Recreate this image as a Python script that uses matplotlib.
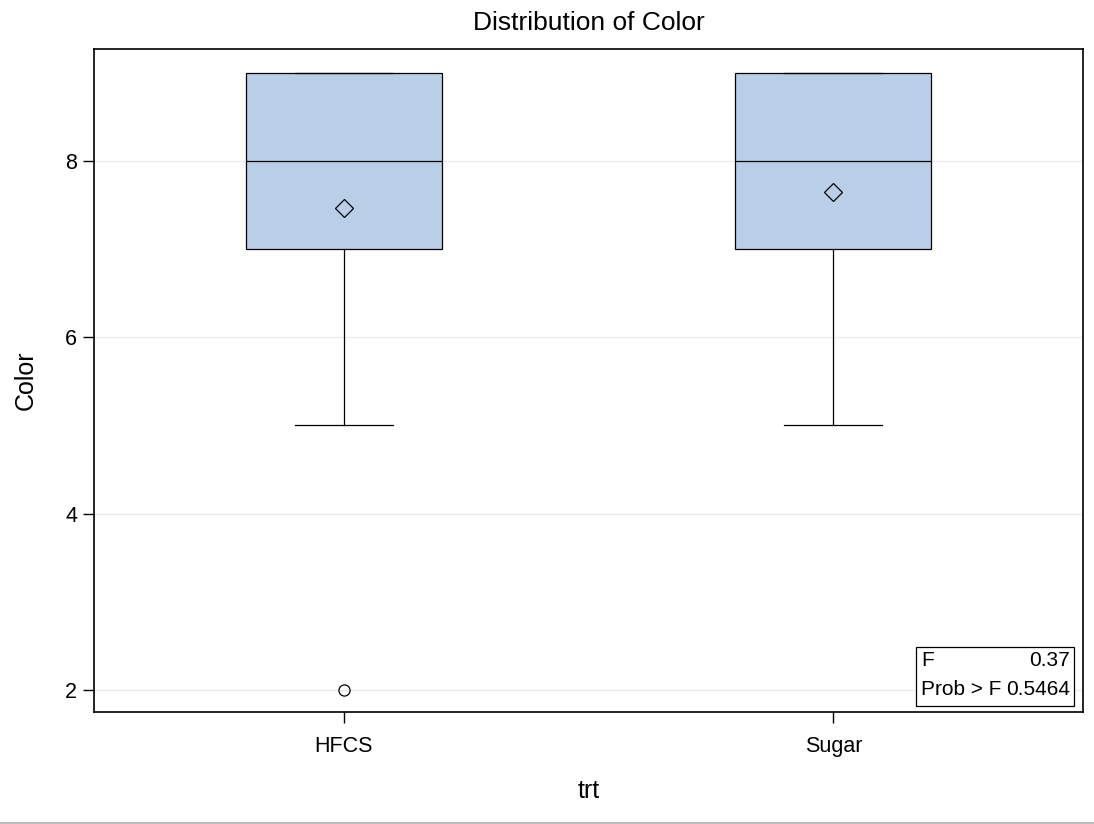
import matplotlib.pyplot as plt
from matplotlib.patches import Rectangle
from matplotlib.lines import Line2D

plt.rcParams['font.family'] = ['Liberation Sans', 'DejaVu Sans']

# Distribution of Color by treatment
groups = ["HFCS", "Sugar"]
q1 = [7, 7]
medians = [8, 8]
q3 = [9, 9]
whisk_lo = [5, 5]
whisk_hi = [9, 9]
means = [7.47, 7.65]
outliers = [[2], []]
f_value = "0.37"
prob_f = "0.5464"

stats = []
for i, g in enumerate(groups):
    stats.append({
        "label": g, "q1": q1[i], "med": medians[i], "q3": q3[i],
        "whislo": whisk_lo[i], "whishi": whisk_hi[i],
        "mean": means[i], "fliers": outliers[i],
    })

fig = plt.figure(figsize=(10.94, 8.24), dpi=100)
ax = fig.add_axes([0.0859, 0.1359, 0.9041, 0.8046])

ax.bxp(stats, positions=range(len(groups)), widths=0.4, capwidths=0.2,
       showmeans=True, patch_artist=True,
       boxprops=dict(facecolor="#B9CFE7", edgecolor="black", linewidth=0.9),
       medianprops=dict(color="black", linewidth=0.9),
       whiskerprops=dict(color="black", linewidth=0.9),
       capprops=dict(color="black", linewidth=0.9),
       meanprops=dict(marker="D", markerfacecolor="none", markeredgecolor="black",
                      markersize=9, markeredgewidth=0.9),
       flierprops=dict(marker="o", markerfacecolor="none", markeredgecolor="black",
                       markersize=8, markeredgewidth=0.9))

ax.set_xlim(-0.51, 1.51)
ax.set_ylim(1.75, 9.27)
ax.set_yticks([2, 4, 6, 8])
ax.set_xticks(range(len(groups)))
ax.set_xticklabels(groups)
ax.yaxis.grid(True, color="#EBEBEB", linewidth=1)
ax.set_axisbelow(True)
ax.tick_params(axis="both", direction="out", length=8, width=1, labelsize=15.5)
ax.tick_params(axis="y", pad=4)
ax.tick_params(axis="x", pad=9)
for s in ax.spines.values():
    s.set_linewidth(1.2)

ax.set_title("Distribution of Color", fontsize=19, pad=14)
ax.set_xlabel("trt", fontsize=18, labelpad=16)
ax.set_ylabel("Color", fontsize=18, labelpad=20)

# statistics inset
ax.add_patch(Rectangle((0.831, 0.009), 0.16, 0.089, transform=ax.transAxes,
                       facecolor="white", edgecolor="black", linewidth=0.9, zorder=5))
ax.text(0.836, 0.078, "F", transform=ax.transAxes, fontsize=15, va="center", ha="left", zorder=6)
ax.text(0.987, 0.078, f_value, transform=ax.transAxes, fontsize=15, va="center", ha="right", zorder=6)
ax.text(0.836, 0.034, "Prob > F", transform=ax.transAxes, fontsize=15, va="center", ha="left", zorder=6)
ax.text(0.987, 0.034, prob_f, transform=ax.transAxes, fontsize=15, va="center", ha="right", zorder=6)

fig.add_artist(Line2D([0, 1], [0.0015, 0.0015], color="#BBBBBB", linewidth=1.5))

fig.savefig("out.png", dpi=100)
